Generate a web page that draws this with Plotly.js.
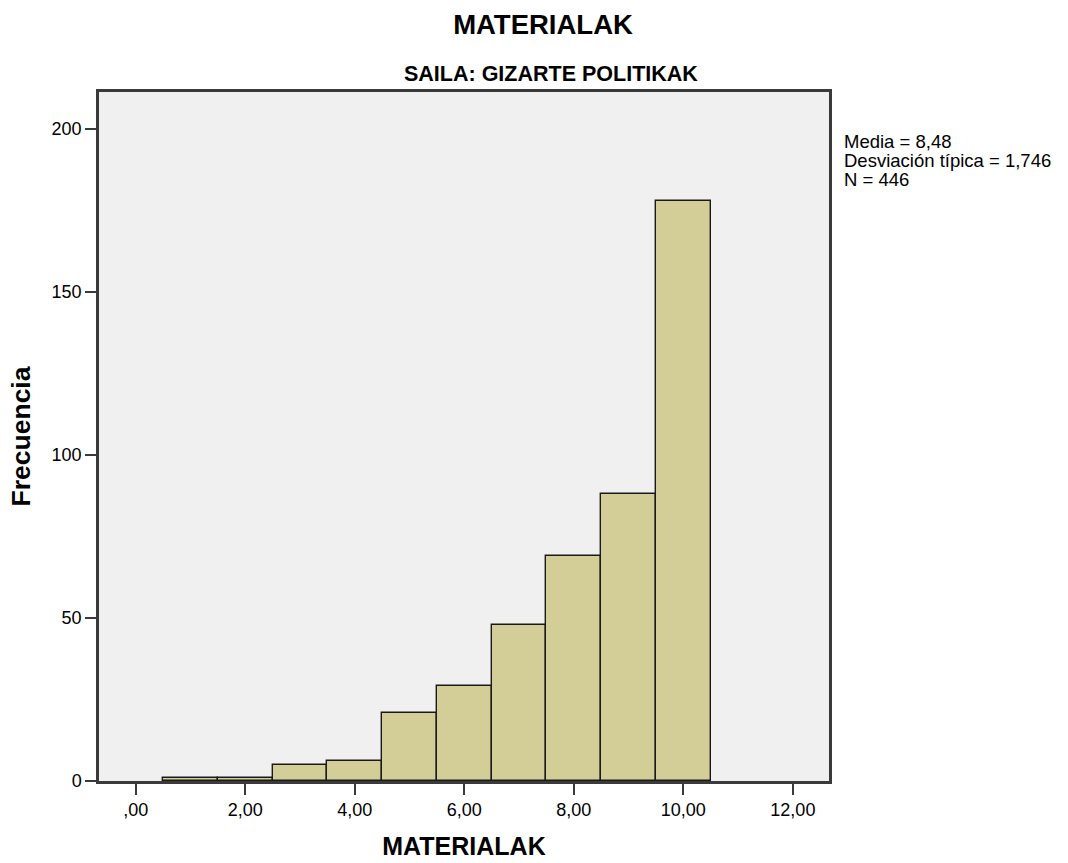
<!DOCTYPE html>
<html>
<head>
<meta charset="utf-8">
<script src="https://cdn.plot.ly/plotly-3.0.1.min.js"></script>
<style>
  html, body { margin: 0; padding: 0; background: #ffffff; }
  #chart { width: 1068px; height: 863px; }
</style>
</head>
<body>
<div id="chart"></div>
<script>
// ---- Data ----
const binCenters = [1, 2, 3, 4, 5, 6, 7, 8, 9, 10];
const frequencies = [1, 1, 5, 6, 21, 29, 48, 69, 88, 178];
const xTickValues = [0, 2, 4, 6, 8, 10, 12];
const xTickLabels = [",00", "2,00", "4,00", "6,00", "8,00", "10,00", "12,00"];
const yTickValues = [0, 50, 100, 150, 200];
const yTickLabels = ["0", "50", "100", "150", "200"];
const statLabels = ["Media = ", "Desviación típica = ", "N = "];
const statValues = ["8,48", "1,746", "446"];
const chartTitle = "MATERIALAK";
const chartSubtitle = "SAILA: GIZARTE POLITIKAK";
const xTitle = "MATERIALAK";
const yTitle = "Frecuencia";

// ---- Layout geometry ----
const W = 1068, H = 863;
const margin = { l: 99, r: 239, t: 92, b: 82, pad: 0 };
const pw = W - margin.l - margin.r;
const ph = H - margin.t - margin.b;
const pxX = px => (px - margin.l) / pw;
const pxY = py => (H - margin.b - py) / ph;

const FONT = "Liberation Sans, Arial, Helvetica, sans-serif";

const trace = {
  type: "bar",
  x: binCenters,
  y: frequencies,
  width: 1,
  marker: { color: "#d3ce97", line: { color: "#1a1a1a", width: 1.4 } },
  hoverinfo: "x+y"
};

const statLineY = [141, 160, 179];
const annotations = statLabels.map((lab, i) => ({
  text: lab + statValues[i],
  xref: "paper", yref: "paper",
  x: pxX(842), y: pxY(statLineY[i]),
  xanchor: "left", yanchor: "middle",
  showarrow: false,
  align: "left",
  font: { family: FONT, size: 18.5, color: "#000000" }
}));
annotations.push({
  text: chartSubtitle,
  xref: "paper", yref: "paper",
  x: pxX(551), y: pxY(74),
  xanchor: "center", yanchor: "middle",
  showarrow: false,
  font: { family: FONT, size: 21.5, color: "#000000", weight: "bold" }
});

const axisLine = { showline: true, linecolor: "#3a3a3a", linewidth: 2.5, mirror: true };

const layout = {
  width: W, height: H,
  margin: margin,
  paper_bgcolor: "#ffffff",
  plot_bgcolor: "#f0f0f0",
  showlegend: false,
  bargap: 0,
  title: {
    text: chartTitle,
    font: { family: FONT, size: 27.5, color: "#000000", weight: "bold" },
    xref: "container", yref: "container",
    x: 543 / W, y: 1 - 24 / H,
    xanchor: "center", yanchor: "middle"
  },
  xaxis: Object.assign({
    range: [-0.67, 12.66],
    tickmode: "array",
    tickvals: xTickValues,
    ticktext: xTickLabels,
    ticks: "outside", ticklen: 11, tickwidth: 2, tickcolor: "#3a3a3a",
    tickfont: { family: FONT, size: 18, color: "#000000" },
    showgrid: false, zeroline: false,
    title: { text: xTitle, font: { family: FONT, size: 25, color: "#000000", weight: "bold" }, standoff: 19 },
    automargin: false
  }, axisLine),
  yaxis: Object.assign({
    range: [0, 211.4],
    tickmode: "array",
    tickvals: yTickValues,
    ticktext: yTickLabels,
    ticks: "outside", ticklen: 11, tickwidth: 2, tickcolor: "#3a3a3a",
    tickfont: { family: FONT, size: 18, color: "#000000" },
    showgrid: false, zeroline: false,
    title: { text: yTitle, font: { family: FONT, size: 26.5, color: "#000000", weight: "bold" }, standoff: 14 },
    automargin: false
  }, axisLine),
  annotations: annotations
};

Plotly.newPlot("chart", [trace], layout, { displayModeBar: false, staticPlot: false });
</script>
</body>
</html>
